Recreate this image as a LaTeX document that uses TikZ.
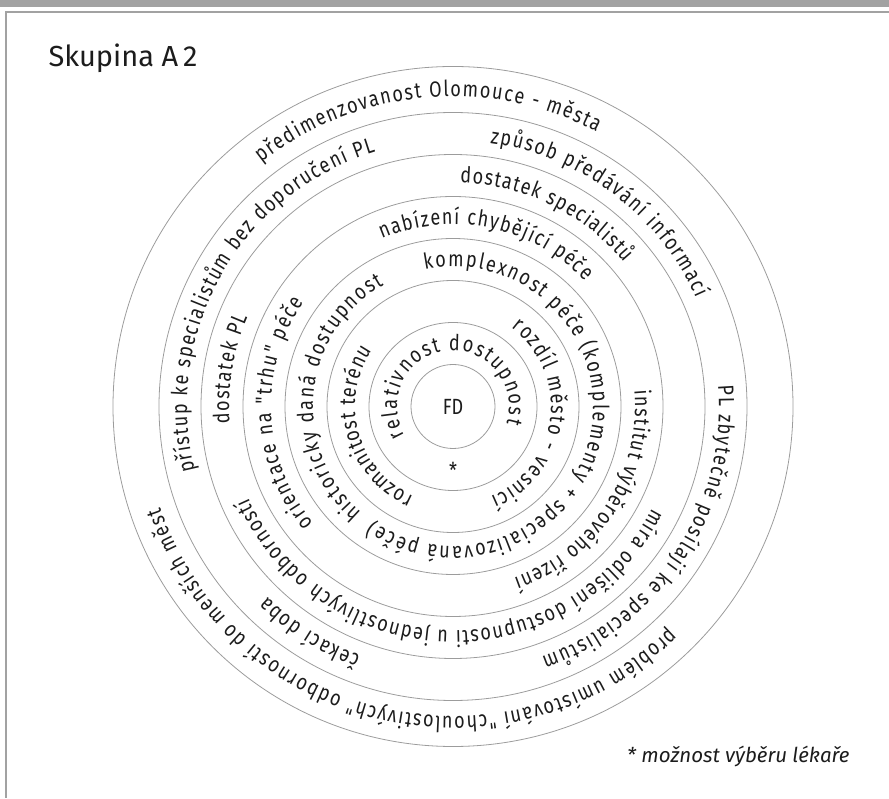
\documentclass[tikz,border=0pt]{standalone}
\usepackage{fontspec}
\setmainfont{Fira Sans}
\newfontfamily\ringfamily{Fira Sans}[FakeStretch=0.82]
\usetikzlibrary{decorations.text}
\definecolor{ringcol}{HTML}{9C9C9C}
\definecolor{framecol}{HTML}{A2A2A2}
\definecolor{inkcol}{HTML}{1C1C1C}
\newcommand{\ringfont}{\ringfamily\fontsize{22}{26}\selectfont}

\begin{document}
\begin{tikzpicture}[x=1pt, y=1pt,
  ringline/.style={ringcol, line width=0.8pt},
  ringtext/.style={decorate, decoration={text along path, text color=inkcol,
    text={|\ringfont|#1}, text align=fit to path}}]
\useasboundingbox (0,0) rectangle (889,798);
% frame
\fill[framecol] (0,790.7) rectangle (889,798);
\draw[framecol, line width=2pt] (889,786) -- (5.5,786) -- (5.5,0);
\node[anchor=base west, inkcol, font=\fontsize{29}{33}\selectfont] (title) at (45,731) {Skupina A\,2};
% rings
\coordinate (c) at (453,391.5);
\foreach \r in {42,84,126,168,210,252,294,340}
  \draw[ringline] (c) circle[radius=\r pt];
\node[inkcol, font=\ringfont] (fd) at (c) {FD};
\node[inkcol, font=\ringfont] (star) at (453,328) {*};
% outer ring
\path[ringtext={předimenzovanost Olomouce - města}] (c) ++(128.2:310pt) arc[start angle=128.2, end angle=62.4, radius=310pt];
\path[ringtext={problém umístování "choulostivých" odborností do menších měst}] (c) ++(-45.6:310pt) arc[start angle=-45.6, end angle=-161, radius=310pt];
% ring 252-294
\path[ringtext={přístup ke specialistům bez doporučení PL}] (c) ++(194:266pt) arc[start angle=194, end angle=107, radius=266pt];
\path[ringtext={způsob předávání informací}] (c) ++(82:266pt) arc[start angle=82, end angle=24, radius=266pt];
\path[ringtext={PL zbytečně posílají ke specialistům}] (c) ++(4.6:266pt) arc[start angle=4.6, end angle=-70.5, radius=266pt];
\path[ringtext={čekací doba}] (c) ++(-110.3:266pt) arc[start angle=-110.3, end angle=-134.4, radius=266pt];
% ring 210-252
\path[ringtext={dostatek specialistů}] (c) ++(88.2:224pt) arc[start angle=88.2, end angle=40, radius=224pt];
\path[ringtext={míra odlišení dostupnosti u jednostlivých odborností}] (c) ++(-27:224pt) arc[start angle=-27, end angle=-156, radius=224pt];
\path[ringtext={dostatek PL}] (c) ++(184.4:224pt) arc[start angle=184.4, end angle=156.5, radius=224pt];
% ring 168-210
\path[ringtext={nabízení chybějící péče}] (c) ++(113:182pt) arc[start angle=113, end angle=43.4, radius=182pt];
\path[ringtext={institut výběrového řízení}] (c) ++(5:182pt) arc[start angle=5, end angle=-70.5, radius=182pt];
\path[ringtext={orientace na "trhu" péče}] (c) ++(220:182pt) arc[start angle=220, end angle=145.2, radius=182pt];
% ring 126-168
\path[ringtext={komplexnost péče (komplementy + specializovaná péče)}] (c) ++(101.6:140pt) arc[start angle=101.6, end angle=-125, radius=140pt];
\path[ringtext={historicky daná dostupnost}] (c) ++(229.3:140pt) arc[start angle=229.3, end angle=119.6, radius=140pt];
% ring 84-126
\path[ringtext={rozdíl město - vesnicí}] (c) ++(53.3:98pt) arc[start angle=53.3, end angle=-67.5, radius=98pt];
\path[ringtext={rozmanitost terénu}] (c) ++(246.2:98pt) arc[start angle=246.2, end angle=145.3, radius=98pt];
% ring 42-84
\path[ringtext={relativnost dostupnost}] (c) ++(210.7:56pt) arc[start angle=210.7, end angle=-17.5, radius=56pt];
\node[anchor=base east, inkcol, font=\fontsize{20.5}{24}\selectfont\itshape] (note) at (853,35) {* možnost výběru lékaře};
\end{tikzpicture}
\end{document}
